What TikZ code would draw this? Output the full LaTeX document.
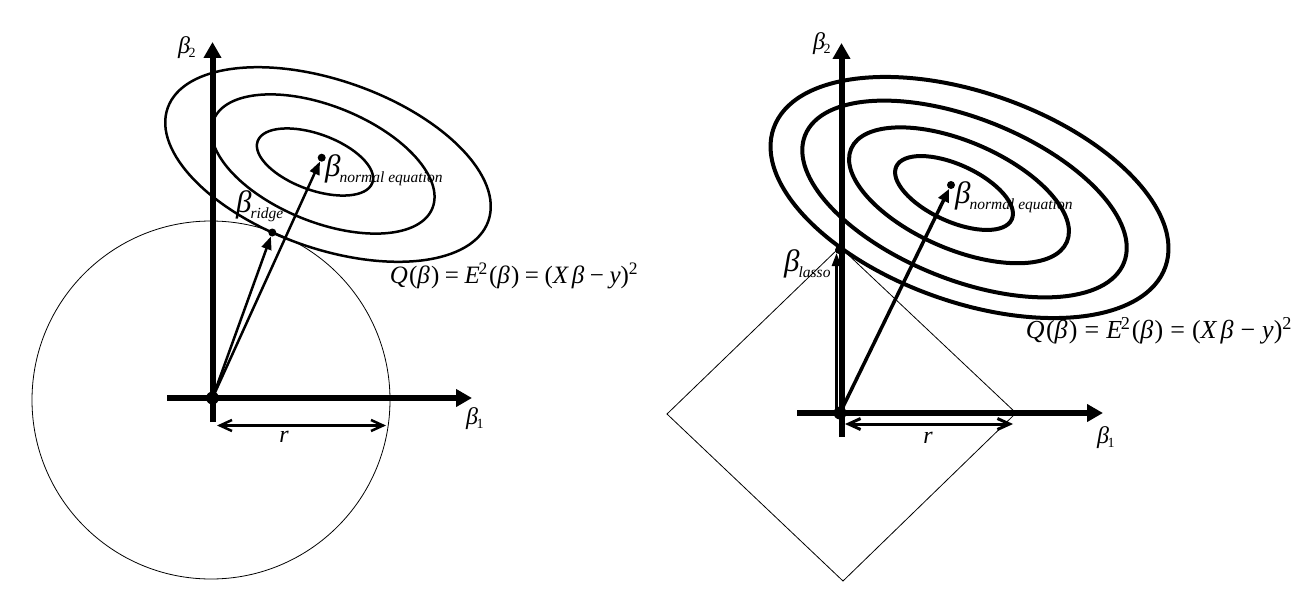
\documentclass[tikz,border=0pt]{standalone}
\usepackage{fontspec}
\setmainfont{Liberation Serif}
\usetikzlibrary{arrows.meta}
\newcommand\Qform[2]{{\fontsize{#1}{#1}\selectfont\textit{Q}\kern0.05em(\textit{β}\kern0.05em)\hspace{#2}=\hspace{#2}\textit{E}\kern-0.05em\textsuperscript{2}\kern0.05em(\textit{β}\kern0.05em)\hspace{#2}=\hspace{#2}(\textit{X}\hspace{0.12em}\textit{β}\hspace{#2}−\hspace{#2}\textit{y})\textsuperscript{2}}}
\newcommand\Bsub[1]{{\fontsize{31}{31}\selectfont\itshape β}\kern-1pt\raisebox{-6pt}{\fontsize{15.5}{15.5}\selectfont\itshape #1}}
\newcommand\Bax[1]{{\fontsize{24}{24}\selectfont\itshape β}\kern-1.5pt\raisebox{-4pt}{\fontsize{14}{14}\selectfont #1}}
\begin{document}
\begin{tikzpicture}[x=1pt,y=-1pt,
  axis/.style={line width=6pt, -{Triangle[length=16pt,width=17pt]}},
  vecL/.style={line width=2.5pt, -{Triangle[length=13pt,width=10pt]}},
  vecR/.style={line width=3.5pt, -{Triangle[length=13pt,width=11pt]}},
  dimL/.style={line width=2.5pt, {Straight Barb[length=12pt,width=11pt]}-{Straight Barb[length=12pt,width=11pt]}},
  dimR/.style={line width=3pt, {Straight Barb[length=12pt,width=11pt]}-{Straight Barb[length=12pt,width=11pt]}},
  cL/.style={line width=2.5pt},
  cR/.style={line width=4pt},
  thinln/.style={line width=0.8pt},
  odot/.style={circle, fill, inner sep=0pt, minimum size=13pt},
  pdot/.style={circle, fill, inner sep=0pt, minimum size=8pt},
  lbl/.style={inner sep=0pt, anchor=base west},
  ctr/.style={inner sep=0pt, anchor=center},
]
\useasboundingbox (0,0) rectangle (1316,602);

% ---------------- left panel: ridge ----------------
\draw[cL, rotate around={-20:(315,162)}] (315,162) ellipse [x radius=61pt, y radius=28pt];
\draw[cL, rotate around={-22:(323,164)}] (323,164) ellipse [x radius=118pt, y radius=58pt];
\draw[cL, rotate around={-19.4:(328,164.5)}] (328,164.5) ellipse [x radius=170pt, y radius=84pt];
\draw[thinln] (211,400) circle [radius=179pt];

\coordinate (Lx0) at (167,398);
\coordinate (Lx1) at (472,398);
\coordinate (Ly0) at (212.5,422);
\coordinate (Ly1) at (212.5,42);
\draw[axis] (Lx0) -- (Lx1);
\draw[axis] (Ly0) -- (Ly1);

\node[odot] (O1) at (212.5,398) {};
\node[pdot] (N1) at (321.7,157.7) {};
\node[pdot] (R1) at (272.3,232.5) {};
\draw[vecL] (O1.center) -- (R1);
\draw[vecL] (O1.center) -- (N1);

\coordinate (Lr0) at (217,425.5);
\coordinate (Lr1) at (386,425.5);
\draw[dimL] (Lr0) -- (Lr1);

\node[lbl] (Lb2) at (178,54) {\Bax{2}};
\node[lbl] (Lb1) at (466,424) {\Bax{1}};
\node[ctr] (Lr) at (284,437) {\fontsize{24}{24}\selectfont\itshape r};
\node[lbl] (LN) at (325,176) {\Bsub{normal equation}};
\node[lbl] (LR) at (236,212) {\Bsub{ridge}};
\node[ctr] (LQ) at (514,276) {\Qform{25}{0.22em}};

% ---------------- right panel: lasso ----------------
\draw[cR, rotate around={-24.6:(954,193)}] (954,193) ellipse [x radius=63.5pt, y radius=28.4pt];
\draw[cR, rotate around={-23.4:(959,195.3)}] (959,195.3) ellipse [x radius=117.5pt, y radius=53.8pt];
\draw[cR, rotate around={-21.8:(964.5,199)}] (964.5,199) ellipse [x radius=171.7pt, y radius=80.7pt];
\draw[cR, rotate around={-19.5:(969.5,197.5)}] (969.5,197.5) ellipse [x radius=207.8pt, y radius=104.6pt];
\draw[thinln] (840,247) -- (1016,413) -- (843,581) -- (667,414) -- cycle;

\coordinate (Rx0) at (797,413);
\coordinate (Rx1) at (1103,413);
\coordinate (Ry0) at (841.5,437);
\coordinate (Ry1) at (841.5,43);
\draw[axis] (Rx0) -- (Rx1);
\draw[axis] (Ry0) -- (Ry1);

\node[odot] (O2) at (840,413) {};
\node[pdot] (N2) at (951,185) {};
\node[pdot] (S2) at (839,250) {};
\coordinate (La0) at (836.5,410);
\coordinate (La1) at (836.5,253);
\draw[line width=2.5pt, -{Triangle[length=13pt,width=9pt]}] (La0) -- (La1);
\draw[vecR] (O2.center) -- (N2);

\coordinate (Rr0) at (845,424);
\coordinate (Rr1) at (1013,424);
\draw[dimR] (Rr0) -- (Rr1);

\node[lbl] (Rb2) at (813,49) {\Bax{2}};
\node[lbl] (Rb1) at (1097,443) {\Bax{1}};
\node[ctr] (Rr) at (928,438) {\fontsize{24}{24}\selectfont\itshape r};
\node[lbl] (RN) at (955,203) {\Bsub{normal equation}};
\node[lbl] (RS) at (784,271) {\Bsub{lasso}};
\node[ctr] (RQ) at (1159,331) {\Qform{26}{0.27em}};
\end{tikzpicture}
\end{document}
